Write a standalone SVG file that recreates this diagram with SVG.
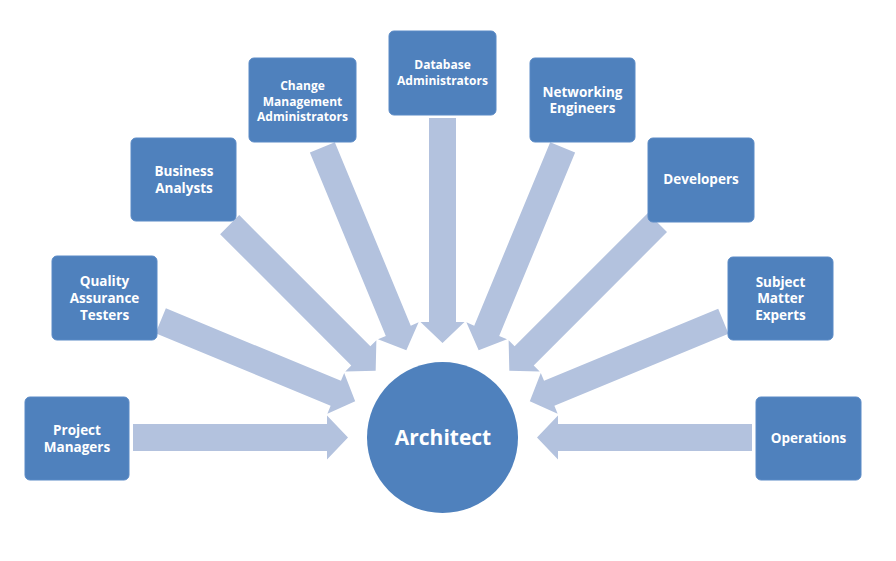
<svg xmlns="http://www.w3.org/2000/svg" width="896" height="561" viewBox="0 0 896 561">
  <style>
    .box { fill: #4F81BD; stroke: #5A8AC6; stroke-width: 1; }
    .arrow { fill: #B3C2DE; }
    .lbl { font-family: "Open Sans", "Liberation Sans", sans-serif; font-weight: bold; font-size: 13.5px; fill: #FFFFFF; text-anchor: middle; }
    .sm { font-size: 12px; }
    .big { font-size: 21px; }
  </style>
  <rect x="0" y="0" width="896" height="561" fill="#FFFFFF"/>
  <g id="connectors">
    <polygon class="arrow" transform="translate(442.5 437.5) rotate(0)" points="-309.5,-13.5 -115.5,-13.5 -115.5,-22 -94.5,0 -115.5,22 -115.5,13.5 -309.5,13.5"/>
    <polygon class="arrow" transform="translate(442.5 437.5) rotate(22.5)" points="-305,-13.5 -115.5,-13.5 -115.5,-22 -94.5,0 -115.5,22 -115.5,13.5 -305,13.5"/>
    <polygon class="arrow" transform="translate(442.5 437.5) rotate(45)" points="-301,-13.5 -115.5,-13.5 -115.5,-22 -94.5,0 -115.5,22 -115.5,13.5 -301,13.5"/>
    <polygon class="arrow" transform="translate(442.5 437.5) rotate(67.5)" points="-314,-13.5 -115.5,-13.5 -115.5,-22 -94.5,0 -115.5,22 -115.5,13.5 -314,13.5"/>
    <polygon class="arrow" transform="translate(442.5 437.5) rotate(90)" points="-319.5,-13.5 -115.5,-13.5 -115.5,-22 -94.5,0 -115.5,22 -115.5,13.5 -319.5,13.5"/>
    <polygon class="arrow" transform="translate(442.5 437.5) rotate(112.5)" points="-314,-13.5 -115.5,-13.5 -115.5,-22 -94.5,0 -115.5,22 -115.5,13.5 -314,13.5"/>
    <polygon class="arrow" transform="translate(442.5 437.5) rotate(135)" points="-304,-13.5 -115.5,-13.5 -115.5,-22 -94.5,0 -115.5,22 -115.5,13.5 -304,13.5"/>
    <polygon class="arrow" transform="translate(442.5 437.5) rotate(157.5)" points="-304,-13.5 -115.5,-13.5 -115.5,-22 -94.5,0 -115.5,22 -115.5,13.5 -304,13.5"/>
    <polygon class="arrow" transform="translate(442.5 437.5) rotate(180)" points="-309.5,-13.5 -115.5,-13.5 -115.5,-22 -94.5,0 -115.5,22 -115.5,13.5 -309.5,13.5"/>
  </g>
  <g id="architect">
    <circle cx="442.5" cy="437.5" r="75.5" fill="#4F81BD"/>
    <text class="lbl big" x="443" y="445">Architect</text>
  </g>
  <g id="project-managers">
    <rect class="box" x="25" y="397" width="104" height="83" rx="5"/>
    <text class="lbl" x="77" y="435">Project</text>
    <text class="lbl" x="77" y="452">Managers</text>
  </g>
  <g id="qa-testers">
    <rect class="box" x="52" y="256" width="105" height="84" rx="5"/>
    <text class="lbl" x="104.5" y="286">Quality</text>
    <text class="lbl" x="104.5" y="303">Assurance</text>
    <text class="lbl" x="104.5" y="320">Testers</text>
  </g>
  <g id="business-analysts">
    <rect class="box" x="131" y="138" width="105" height="83" rx="5"/>
    <text class="lbl" x="184" y="176">Business</text>
    <text class="lbl" x="184" y="193">Analysts</text>
  </g>
  <g id="change-management">
    <rect class="box" x="249" y="58" width="107" height="84" rx="5"/>
    <text class="lbl sm" x="302.5" y="89.5">Change</text>
    <text class="lbl sm" x="302.5" y="105.5">Management</text>
    <text class="lbl sm" x="302.5" y="120.5">Administrators</text>
  </g>
  <g id="database-administrators">
    <rect class="box" x="389" y="31" width="107" height="84" rx="5"/>
    <text class="lbl sm" x="442.5" y="68.5">Database</text>
    <text class="lbl sm" x="442.5" y="84.5">Administrators</text>
  </g>
  <g id="networking-engineers">
    <rect class="box" x="530" y="58" width="105" height="84" rx="5"/>
    <text class="lbl" x="582.5" y="97">Networking</text>
    <text class="lbl" x="582.5" y="113">Engineers</text>
  </g>
  <g id="developers">
    <rect class="box" x="648" y="138" width="106" height="84" rx="5"/>
    <text class="lbl" x="701" y="184">Developers</text>
  </g>
  <g id="subject-matter-experts">
    <rect class="box" x="728" y="257" width="105" height="83" rx="5"/>
    <text class="lbl" x="780.5" y="287">Subject</text>
    <text class="lbl" x="780.5" y="303">Matter</text>
    <text class="lbl" x="780.5" y="320">Experts</text>
  </g>
  <g id="operations">
    <rect class="box" x="756" y="397" width="105" height="83" rx="5"/>
    <text class="lbl" x="808.5" y="443">Operations</text>
  </g>
</svg>
